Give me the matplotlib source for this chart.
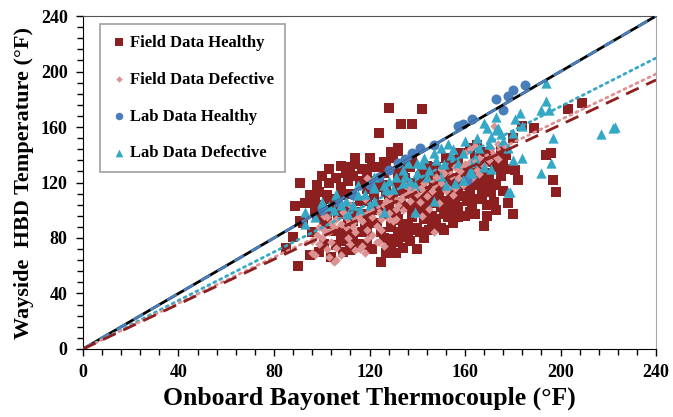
import matplotlib
matplotlib.use("Agg")
import matplotlib.pyplot as plt
import numpy as np

# data (x = onboard bayonet, y = wayside HBD), deg F
field_healthy = [
    (128, 174), (142, 173), (133, 162), (138, 162), (124, 156), (203, 173), (209, 177),
    (189, 159), (184, 161), (180, 152), (194, 140), (196, 141), (197, 122), (198, 113),
    (181, 129), (182, 122), (176, 114), (178, 105), (180, 97), (169, 96), (168, 89),
    (125, 63), (140, 72), (131, 69), (151, 86), (90, 60), (85, 73), (89, 103), (91, 120),
    (114, 138), (120, 138), (129, 142), (132, 145), (114, 133), (103, 130), (121, 131),
    (124, 131), (127, 134), (119, 127), (113, 125), (106, 123), (98, 118), (103, 120),
    (111, 121), (108, 117), (99, 113), (95, 111), (95, 109), (98, 116), (91, 92), (88, 81),
    (102, 111), (106, 104), (112, 112), (119, 115), (127, 113), (124, 104), (120, 94),
    (129, 89), (119, 84), (113, 80), (106, 75), (99, 70), (104, 66), (95, 68), (119, 76),
    (113, 92), (109, 84), (96, 84), (102, 94), (129, 75), (132, 84), (133, 82), (136, 89),
    (143, 94), (150, 87), (147, 94), (140, 87), (130, 79), (150, 102), (157, 102),
    (161, 107), (154, 109), (145, 109), (139, 105), (133, 106), (142, 116), (148, 115),
    (157, 115), (168, 117), (138, 98), (144, 102), (132, 94), (132, 143), (130, 138),
    (162, 145), (164, 138), (167, 134), (171, 135), (175, 143), (177, 140), (168, 142),
    (157, 136), (153, 134), (148, 128), (159, 129), (155, 123), (163, 127), (170, 123),
    (175, 125), (173, 118), (166, 118), (161, 120), (151, 117), (145, 123), (137, 131),
    (132, 128), (135, 123), (142, 120), (132, 116), (126, 127), (134, 127), (136, 131),
    (132, 122), (140, 120), (147, 120), (151, 124), (148, 131), (142, 129), (150, 107),
    (153, 95), (128, 107), (119, 107), (112, 102), (104, 100), (98, 95), (92, 91),
    (111, 91), (120, 91), (129, 88), (137, 86), (145, 86), (112, 131), (119, 122),
    (126, 135), (151, 97), (148, 91), (141, 84), (136, 81), (132, 77), (129, 77),
    (126, 80), (119, 75), (112, 71), (109, 70), (117, 84), (123, 91), (130, 93),
    (138, 95), (144, 98), (146, 105),
    (97, 100), (100, 104), (101, 90), (104, 108), (107, 97), (109, 111), (110, 79),
    (114, 99), (116, 107), (117, 118), (118, 89), (121, 100), (122, 111), (123, 121),
    (125, 84), (126, 97), (127, 118), (128, 102), (130, 110), (131, 99), (133, 114),
    (134, 90), (135, 102), (136, 112), (137, 120), (139, 110), (140, 101), (141, 124),
    (143, 108), (144, 113), (146, 96), (147, 126), (149, 112), (150, 119), (152, 103),
    (153, 128), (154, 99), (155, 112), (156, 106), (158, 118), (159, 110), (160, 125),
    (162, 113), (163, 102), (164, 120), (165, 108), (166, 128), (167, 111), (169, 104),
    (170, 127), (171, 113), (172, 106), (174, 131), (173, 100), (118, 97), (112, 87),
    (105, 85), (108, 78), (101, 76), (115, 76), (121, 72), (127, 69), (134, 73),
    (137, 78), (143, 80), (146, 89), (155, 91), (160, 96), (164, 97), (117, 130),
    (110, 127), (100, 125), (97, 107), (93, 105), (108, 132), (116, 121), (124, 117),
    (138, 136), (144, 132), (152, 138), (158, 141), (165, 147), (170, 140), (153, 120),
    (157, 95), (162, 99), (171, 119), (167, 124), (176, 136), (177, 130), (174, 137),
]

field_defective = [
    (172, 161), (174, 137), (145, 101), (147, 84), (124, 77), (116, 72), (106, 64),
    (97, 68), (98, 82), (104, 77), (96, 69), (105, 63), (106, 73), (112, 76), (114, 71),
    (117, 74), (110, 88), (123, 89), (125, 94), (119, 86), (114, 84), (101, 86), (105, 88),
    (123, 77), (127, 107), (131, 94), (110, 95), (116, 98), (106, 94), (132, 104),
    (137, 107), (152, 114), (156, 116), (130, 92), (164, 146), (160, 141), (171, 145),
    (177, 146), (166, 138), (156, 131), (151, 127), (157, 123), (153, 116), (163, 123),
    (147, 118), (142, 115), (100, 80), (108, 90), (115, 95), (120, 100), (126, 104),
    (135, 110), (140, 112), (143, 120), (148, 124), (150, 130), (158, 128), (162, 135),
    (168, 132), (172, 140), (135, 118), (128, 112), (118, 108), (112, 104), (102, 95),
    (96, 78), (134, 100), (139, 97), (128, 98), (121, 82), (113, 91), (101, 96),
    (119, 123), (136, 117), (99, 76), (103, 84), (99, 88), (103, 66),
    (104, 91), (109, 99), (113, 88), (117, 92), (121, 95), (124, 99), (128, 94),
    (133, 108), (137, 113), (141, 106), (144, 110), (146, 114), (150, 120), (154, 125),
    (160, 133), (165, 129), (170, 136), (155, 111), (131, 101), (125, 86), (119, 79),
    (111, 80), (108, 68), (102, 72), (118, 69), (126, 74), (142, 96), (149, 105),
    (159, 118), (166, 126), (174, 148), (162, 144),
]

lab_healthy = [
    (157, 161), (159, 162), (163, 166), (173, 180), (178, 182), (180, 187), (185, 190),
    (176, 172), (138, 141), (141, 145), (147, 147), (132, 134), (128, 129), (161, 122),
    (100, 100), (107, 106), (113, 111), (120, 118), (135, 137), (124, 124),
]

lab_defective = [
    (217, 155), (222, 159), (223, 160), (194, 192), (194, 179), (192, 172), (195, 172),
    (183, 170), (181, 166), (173, 167), (168, 163), (169, 159), (174, 159), (175, 155),
    (171, 153), (184, 161), (197, 152), (184, 138), (180, 136), (196, 134), (192, 127),
    (179, 113), (171, 130), (163, 127), (159, 141), (153, 148), (150, 145), (154, 140),
    (147, 141), (164, 138), (159, 122), (147, 107), (140, 134), (134, 129), (126, 118),
    (122, 117), (115, 118), (106, 112), (173, 158), (180, 156), (142, 133), (136, 134),
    (163, 135), (162, 128), (168, 131), (145, 129), (140, 127), (134, 120), (139, 118),
    (156, 120), (93, 99), (93, 90), (100, 105), (106, 111), (110, 107), (105, 100),
    (115, 111), (122, 107), (126, 99), (111, 97), (116, 100), (122, 116), (127, 115),
    (139, 99), (178, 113), (122, 124), (130, 115), (100, 106),
    (97, 95), (103, 103), (108, 104), (113, 104), (118, 112), (120, 104), (128, 121),
    (131, 124), (135, 125), (137, 121), (143, 138), (148, 136), (151, 133), (155, 144),
    (157, 134), (160, 150), (165, 152), (166, 145), (170, 148), (176, 150), (178, 145),
    (144, 124), (150, 125), (152, 118),
]

# trendline slopes (fits through origin)
slope_field_healthy = 0.808
slope_field_defective = 0.826
slope_lab_healthy = 1.0
slope_lab_defective = 0.874

fh = np.array(field_healthy)
fd = np.array(field_defective)
lh = np.array(lab_healthy)
ld = np.array(lab_defective)

c_fh = '#8c1f1f'
c_fd = '#dd9394'
c_lh = '#4a7ebb'
c_ld = '#35a8c6'

plt.rcParams['font.family'] = 'Liberation Serif'
plt.rcParams['font.weight'] = 'bold'

fig = plt.figure(figsize=(6.73, 4.17), dpi=100)
ax = fig.add_axes([0.1233, 0.1631, 0.8515, 0.7985])

ax.scatter(fh[:, 0], fh[:, 1], marker='s', s=46, color=c_fh, linewidths=0,
           label='Field Data Healthy', zorder=2)
ax.scatter(fd[:, 0], fd[:, 1], marker='D', s=19, color=c_fd, linewidths=0,
           label='Field Data Defective', zorder=3)
ax.scatter(lh[:, 0], lh[:, 1], marker='o', s=52, color=c_lh, linewidths=0,
           label='Lab Data Healthy', zorder=4)
ax.scatter(ld[:, 0], ld[:, 1], marker='^', s=55, color=c_ld, linewidths=0,
           label='Lab Data Defective', zorder=4)

xx = np.array([0, 240])
ax.plot(xx, xx, color='black', lw=2, zorder=5)
ax.plot(xx, slope_lab_healthy * xx, color=c_lh, lw=2, ls=(0, (4, 3)), zorder=6)
ax.plot(xx, slope_lab_defective * xx, color=c_ld, lw=2, ls=(0, (0.8, 1.6)),
        dash_capstyle='round', zorder=6)
ax.plot(xx, slope_field_defective * xx, color=c_fd, lw=2, ls=(0, (0.8, 1.6)),
        dash_capstyle='round', zorder=6)
ax.plot(xx, slope_field_healthy * xx, color=c_fh, lw=2, ls=(0, (5, 3)), zorder=6)

ax.set_xlim(0, 240)
ax.set_ylim(0, 240)
ax.set_xticks(np.arange(0, 241, 40))
ax.set_yticks(np.arange(0, 241, 40))
ax.set_xticks(np.arange(0, 241, 8), minor=True)
ax.set_yticks(np.arange(0, 241, 8), minor=True)
ax.tick_params(which='both', direction='out', width=1, colors='black')
ax.tick_params(which='major', length=5, labelsize=13, pad=6)
ax.tick_params(which='minor', length=4)
for lab in ax.get_xticklabels() + ax.get_yticklabels():
    lab.set_fontweight('bold')

ax.spines['left'].set_color('black')
ax.spines['bottom'].set_color('black')
ax.spines['top'].set_color('#555555')
ax.spines['right'].set_color('#aaaaaa')

ax.set_xlabel('Onboard Bayonet Thermocouple (°F)', fontsize=18.5, fontweight='bold', labelpad=4)
ax.set_ylabel('Wayside  HBD Temperature (°F)', fontsize=16, fontweight='bold', labelpad=5)

leg = ax.legend(loc='upper left', bbox_to_anchor=(0.0297, 0.976), fontsize=12,
                frameon=True, fancybox=False, edgecolor='#888888', labelspacing=1.25,
                handletextpad=0.15, borderpad=0.65, borderaxespad=0, markerscale=0.75,
                handlelength=1.0)
leg.get_frame().set_linewidth(1.2)
for t in leg.get_texts():
    t.set_fontweight('bold')

fig.savefig('out.png', dpi=100)
